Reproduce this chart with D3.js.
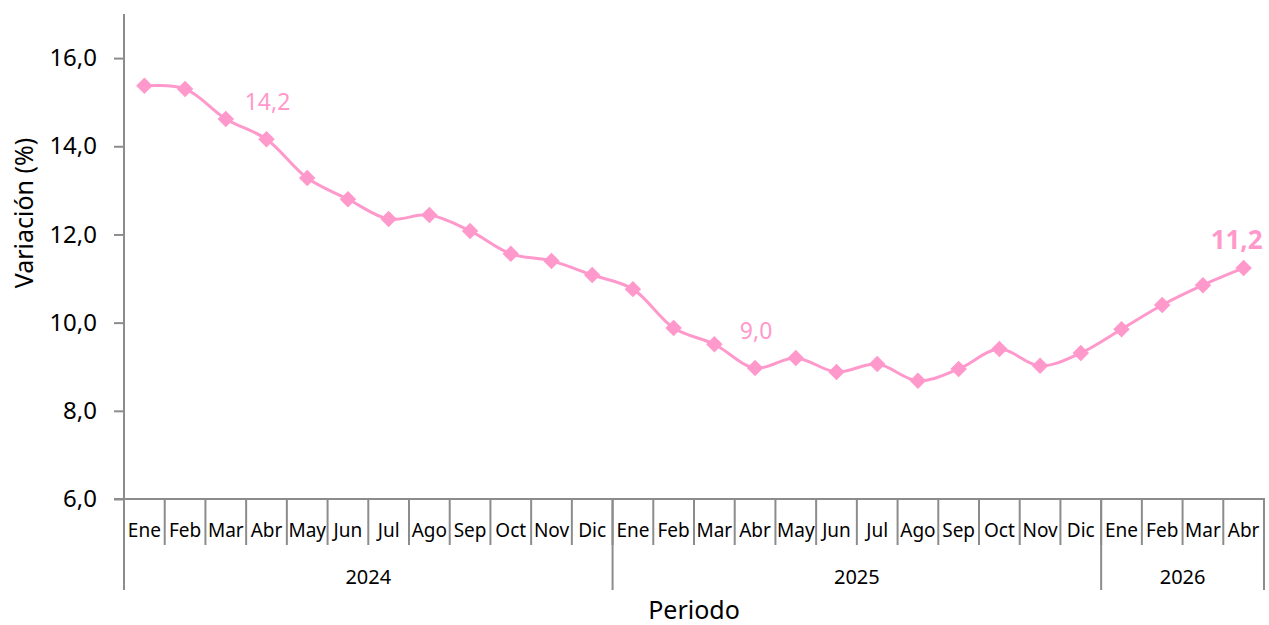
<!DOCTYPE html>
<html><head><meta charset="utf-8">
<script src="https://cdn.jsdelivr.net/npm/d3@7"></script>
<style>body{margin:0;background:#fff}svg{display:block}text{font-family:"Noto Sans","Open Sans",sans-serif}</style>
</head><body><svg id="c" width="1269" height="625"></svg>
<script>
const months = ["Ene","Feb","Mar","Abr","May","Jun","Jul","Ago","Sep","Oct","Nov","Dic","Ene","Feb","Mar","Abr","May","Jun","Jul","Ago","Sep","Oct","Nov","Dic","Ene","Feb","Mar","Abr"];
const years = ["2024","2025","2026"];
const yearCounts = [12,12,4];
const values = [15.37,15.30,14.62,14.16,13.28,12.80,12.35,12.44,12.08,11.56,11.40,11.08,10.76,9.88,9.51,8.97,9.20,8.88,9.06,8.68,8.95,9.40,9.02,9.31,9.85,10.40,10.85,11.24];
const yTicks = [6,8,10,12,14,16];
const labels = [{i:3,text:"14,2",bold:false},{i:15,text:"9,0",bold:false},{i:27,text:"11,2",bold:true}];

const svg = d3.select("#c");
const pink = "#ff99cc", axisCol = "#8c8c8c";
const x = d3.scaleBand().domain(d3.range(months.length)).range([124,1264]);
const y = d3.scaleLinear().domain([6,17]).range([499,14]);
const fmt = v => d3.format(".1f")(v).replace(".",",");

const ya = svg.append("g").attr("transform","translate(124,0)").call(d3.axisLeft(y).tickValues(yTicks).tickFormat(fmt).tickSize(10).tickPadding(17));
ya.select(".domain").remove();
ya.selectAll(".tick line").attr("stroke",axisCol).attr("stroke-width",2);
ya.selectAll(".tick text").attr("font-size",24).attr("fill","#000");
svg.append("line").attr("x1",124).attr("x2",124).attr("y1",14).attr("y2",590).attr("stroke",axisCol).attr("stroke-width",2);

svg.append("line").attr("x1",114).attr("x2",1265).attr("y1",499).attr("y2",499).attr("stroke",axisCol).attr("stroke-width",2);
const g = svg.append("g");
months.forEach((m,i)=>{
  const xs = x(i);
  if(i>0) g.append("line").attr("x1",xs).attr("x2",xs).attr("y1",499).attr("y2",545).attr("stroke",axisCol).attr("stroke-width",2);
  g.append("text").attr("x",xs+x.bandwidth()/2).attr("y",537).attr("text-anchor","middle").attr("font-size",19).attr("fill","#000").text(m);
});
let start=0;
years.forEach((yr,k)=>{
  const end = start+yearCounts[k];
  const x0 = x(start), x1 = end<months.length ? x(end) : x(months.length-1)+x.bandwidth();
  g.append("line").attr("x1",x1).attr("x2",x1).attr("y1",499).attr("y2",590).attr("stroke",axisCol).attr("stroke-width",2);
  g.append("text").attr("x",(x0+x1)/2).attr("y",584).attr("text-anchor","middle").attr("font-size",20).attr("fill","#000").text(yr);
  start=end;
});

svg.append("text").attr("transform","translate(33,213) rotate(-90)").attr("text-anchor","middle").attr("font-size",25).attr("fill","#000").text("Variación (%)");
svg.append("text").attr("x",694).attr("y",619).attr("text-anchor","middle").attr("font-size",25).attr("fill","#000").text("Periodo");

const cx = i => x(i)+x.bandwidth()/2;
svg.append("path").datum(values).attr("fill","none").attr("stroke",pink).attr("stroke-width",3)
  .attr("d",d3.line().x((d,i)=>cx(i)).y(d=>y(d)).curve(d3.curveCatmullRom.alpha(0.5)));
svg.selectAll(".pt").data(values).join("path").attr("class","pt")
  .attr("d",d3.symbol(d3.symbolSquare,136)).attr("transform",(d,i)=>`translate(${cx(i)},${y(d)}) rotate(45)`)
  .attr("fill",pink);

labels.forEach(l=>{
  svg.append("text").attr("x",cx(l.i)+(l.bold?-7:1)).attr("y",y(values[l.i])-(l.bold?19:29))
    .attr("text-anchor","middle").attr("font-size",l.bold?26:23).attr("font-weight",l.bold?"bold":"normal")
    .attr("fill",pink).text(l.text);
});
</script></body></html>
